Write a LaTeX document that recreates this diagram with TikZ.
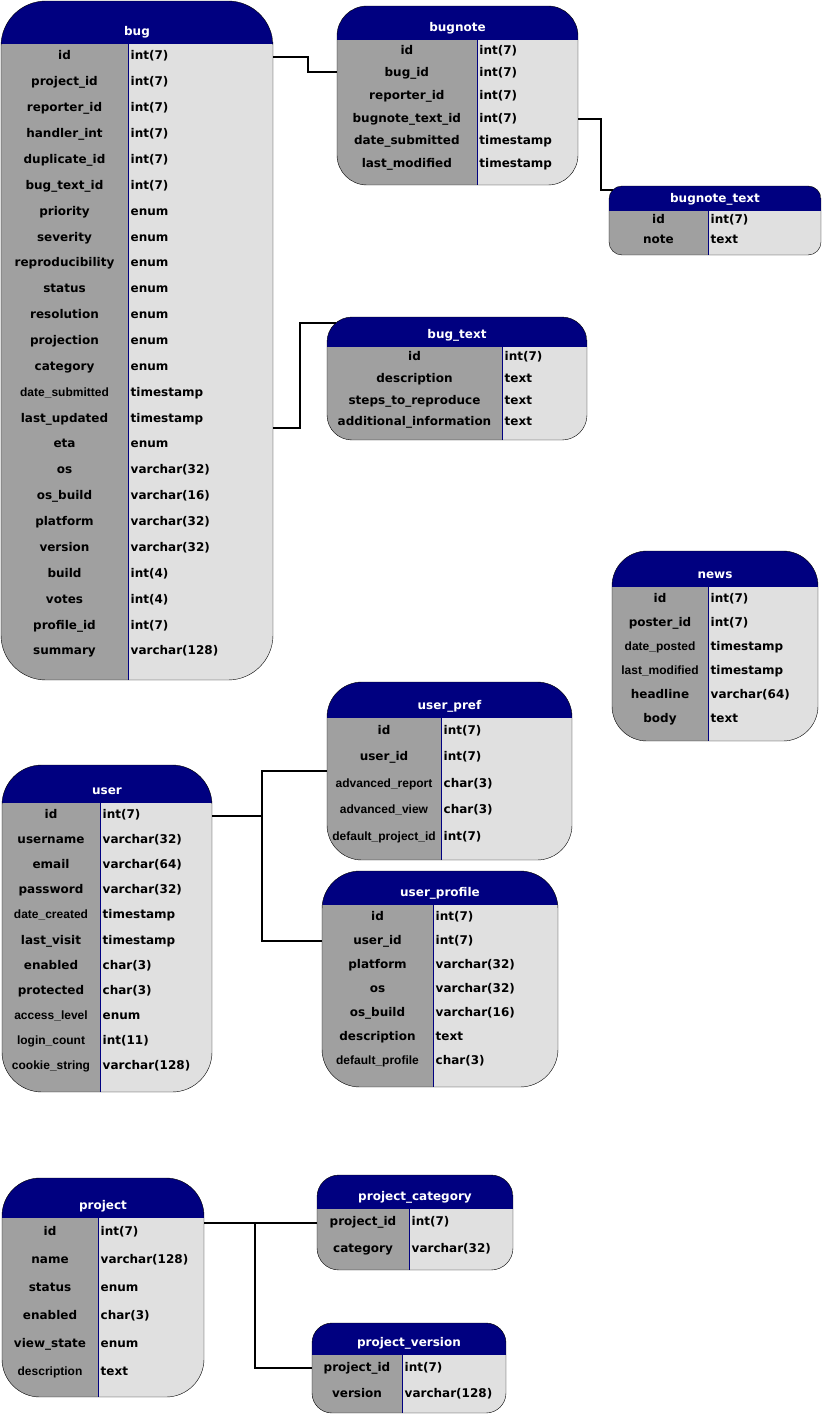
\documentclass[tikz,border=0pt]{standalone}
\usepackage{fontspec}
\setmainfont{DejaVu Sans}
\newfontfamily\narrowfont{Liberation Sans}
\usetikzlibrary{positioning}
\definecolor{headblue}{RGB}{0,0,128}
\definecolor{keygray}{RGB}{160,160,160}
\definecolor{typegray}{RGB}{224,224,224}
\newcommand{\sm}[1]{{\narrowfont\fontsize{12}{14}\selectfont #1}}
\tikzset{
	tabletitle/.style={text=white, font=\bfseries\fontsize{12}{14}\selectfont, inner sep=0pt},
	keytext/.style={font=\bfseries\fontsize{12}{14}\selectfont, text height=9pt, text depth=3pt, inner sep=0pt},
	typetext/.style={font=\bfseries\fontsize{12}{14}\selectfont, text height=9pt, text depth=3pt, inner xsep=2.5pt, inner ysep=0pt, anchor=west},
	link/.style={line width=2pt}
}
\newcommand{\DbTable}[9]{
	\node[inner sep=0pt, minimum width=#3, minimum height=#4, anchor=north west] (#1) at (0,0) {};
	\begin{scope}
		\clip[rounded corners=#7] (0,0) rectangle (#3,#4);
		\fill[headblue] (0,0) rectangle (#3,#5);
		\fill[keygray] (0,#5) rectangle (#6,#4);
		\fill[typegray] (#6,#5) rectangle (#3,#4);
	\end{scope}
	\draw[headblue] (#6,#5) -- (#6,#4);
	\draw[rounded corners=#7] (0,0) rectangle (#3,#4);
	\node[tabletitle] (#1-title) at ({#3/2},{#5-11.5}) {#2};
	\foreach \key/\type [count=\i] in {#9} {
		\node[keytext] (#1-\i) at ({#6/2},{#5+(\i-0.5)*#8}) {\key};
		\node[typetext] (#1-t\i) at ({#6},{#5+(\i-0.5)*#8}) {\type};
	}
}

\begin{document}
\begin{tikzpicture}[x=1pt,y=-1pt]
	\useasboundingbox (0,0) rectangle (822,1415);
	\begin{scope}[shift={(1,1)}]
		\DbTable{bug}{bug}{272}{679}{43}{127}{45}{25.87}{id/int(7), project\_id/int(7), reporter\_id/int(7), handler\_int/int(7), duplicate\_id/int(7), bug\_text\_id/int(7), priority/enum, severity/enum, reproducibility/enum, status/enum, resolution/enum, projection/enum, category/enum, \sm{date\_submitted}/timestamp, last\_updated/timestamp, eta/enum, os/varchar(32), os\_build/varchar(16), platform/varchar(32), version/varchar(32), build/int(4), votes/int(4), profile\_id/int(7), summary/varchar(128)}
	\end{scope}
	\begin{scope}[shift={(337,6)}]
		\DbTable{bugnote}{bugnote}{241}{179}{34}{139.7}{30}{22.6}{id/int(7), bug\_id/int(7), reporter\_id/int(7), bugnote\_text\_id/int(7), date\_submitted/timestamp, last\_modified/timestamp}
	\end{scope}
	\begin{scope}[shift={(609,186)}]
		\DbTable{bugnote_text}{bugnote\_text}{212}{69}{24.7}{99}{13}{20}{id/int(7), note/text}
	\end{scope}
	\begin{scope}[shift={(327,317)}]
		\DbTable{bug_text}{bug\_text}{260}{123}{30}{175}{25}{21.7}{id/int(7), description/text, steps\_to\_reproduce/text, additional\_information/text}
	\end{scope}
	\begin{scope}[shift={(612,551)}]
		\DbTable{news}{news}{206}{190}{36}{96}{35}{24}{id/int(7), poster\_id/int(7), \sm{date\_posted}/timestamp, \sm{last\_modified}/timestamp, headline/varchar(64), body/text}
	\end{scope}
	\begin{scope}[shift={(327,682)}]
		\DbTable{user_pref}{user\_pref}{245}{178}{36}{114}{35}{26.5}{id/int(7), user\_id/int(7), \sm{advanced\_report}/char(3), \sm{advanced\_view}/char(3), \sm{default\_project\_id}/int(7)}
	\end{scope}
	\begin{scope}[shift={(2,765)}]
		\DbTable{user}{user}{210}{327}{38}{98}{40}{25.1}{id/int(7), username/varchar(32), email/varchar(64), password/varchar(32), \sm{date\_created}/timestamp, last\_visit/timestamp, enabled/char(3), protected/char(3), \sm{access\_level}/enum, \sm{login\_count}/int(11), \sm{cookie\_string}/varchar(128)}
	\end{scope}
	\begin{scope}[shift={(322,871)}]
		\DbTable{user_profile}{user\_profile}{236}{216}{34}{111}{38}{24}{id/int(7), user\_id/int(7), platform/varchar(32), os/varchar(32), os\_build/varchar(16), description/text, \sm{default\_profile}/char(3)}
	\end{scope}
	\begin{scope}[shift={(2,1178)}]
		\DbTable{project}{project}{202}{219}{40}{96}{38}{28}{id/int(7), name/varchar(128), status/enum, enabled/char(3), view\_state/enum, \sm{description}/text}
	\end{scope}
	\begin{scope}[shift={(317,1175)}]
		\DbTable{project_category}{project\_category}{196}{95}{34}{92}{22}{27}{project\_id/int(7), category/varchar(32)}
	\end{scope}
	\begin{scope}[shift={(312,1323)}]
		\DbTable{project_version}{project\_version}{194}{90}{32}{90}{20}{26}{project\_id/int(7), version/varchar(128)}
	\end{scope}
	\draw[link] (bug.east |- bug-1) -- ++(35,0) |- ([shift={(0,-2)}]bugnote.west |- bugnote-2);
	\draw[link] (bugnote.east |- bugnote-4) -- ++(23,0) |- ([shift={(4,4)}]bugnote_text.north west);
	\draw[link] ([shift={(0,5)}]bug.east |- bug_text-4) -- ++(27,0) |- ([shift={(9,6)}]bug_text.north west);
	\draw[link] (user.east |- user-1) -- ++(50,0) coordinate (ujoin) |- ([shift={(0,13)}]user_pref.west |- user_pref-2);
	\draw[link] (ujoin) |- (user_profile.west |- user_profile-2);
	\draw[link] (project.east |- project_category-1) -- ++(51,0) coordinate (pjoin) -- (project_category.west |- project_category-1);
	\draw[link] (pjoin) |- (project_version.west |- project_version-1);
\end{tikzpicture}
\end{document}
